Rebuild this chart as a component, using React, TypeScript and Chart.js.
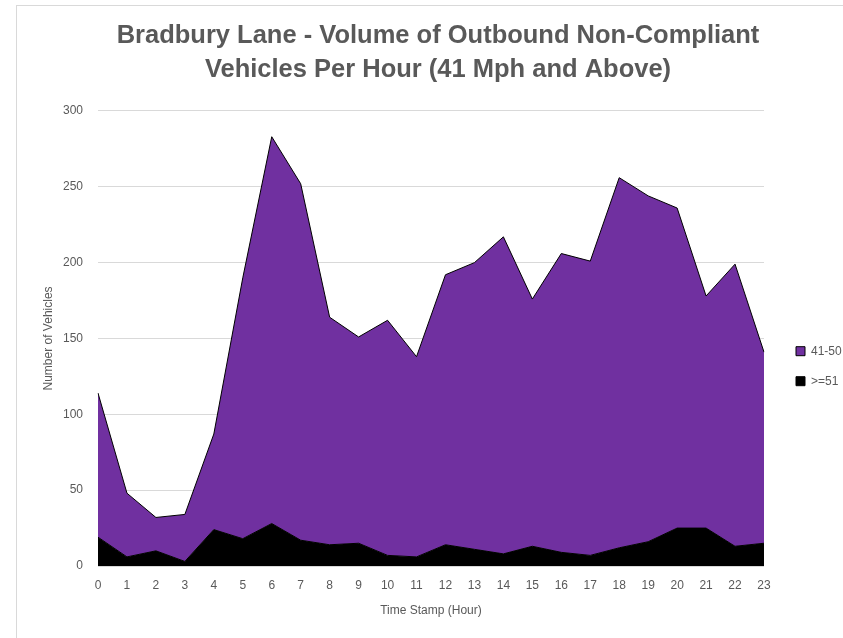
import React, { useEffect, useRef } from 'react';
import { Chart, registerables } from 'chart.js';

Chart.register(...registerables);

const hours = ['0', '1', '2', '3', '4', '5', '6', '7', '8', '9', '10', '11', '12', '13', '14', '15', '16', '17', '18', '19', '20', '21', '22', '23'];
const speed51Plus = [19, 6, 10, 3, 24, 18, 28, 17, 14, 15, 7, 6, 14, 11, 8, 13, 9, 7, 12, 16, 25, 25, 13, 15];
const speed41to50 = [95, 42, 22, 31, 63, 172, 255, 235, 150, 136, 155, 132, 178, 189, 209, 163, 197, 194, 244, 228, 211, 153, 186, 126];
const titleLines = ['Bradbury Lane - Volume of Outbound Non-Compliant', 'Vehicles Per Hour (41 Mph and Above)'];
const yMin = 0;
const yMax = 300;
const yStep = 50;

const TEXT = '#595959';
const PURPLE = '#7030A0';
const GRID = '#D9D9D9';
const SANS = "'Liberation Sans', Arial, sans-serif";

export default function App() {
  const ref = useRef<HTMLCanvasElement | null>(null);

  useEffect(() => {
    if (!ref.current) return;
    const chart = new Chart(ref.current, {
      type: 'line',
      data: {
        labels: hours,
        datasets: [
          {
            label: '>=51',
            data: speed51Plus,
            yAxisID: 'y',
            backgroundColor: '#000000',
            borderColor: '#000000',
            borderWidth: 1,
            fill: 'origin',
            pointRadius: 0,
            tension: 0,
          },
          {
            label: '41-50',
            data: speed41to50,
            yAxisID: 'y',
            backgroundColor: PURPLE,
            borderColor: '#000000',
            borderWidth: 1,
            fill: '-1',
            pointRadius: 0,
            tension: 0,
          },
        ],
      },
      options: {
        responsive: false,
        animation: false,
        events: [],
        layout: { padding: { left: 33, right: 0, top: 0, bottom: 18 } },
        plugins: {
          title: {
            display: true,
            text: titleLines,
            color: TEXT,
            font: { family: SANS, size: 25.5, weight: 'bold', lineHeight: 1.34 },
            padding: { top: 19, bottom: 23.6 },
          },
          legend: {
            position: 'right',
            reverse: true,
            maxWidth: 65,
            title: { display: true, text: '', padding: { top: 98, bottom: 0 } },
            labels: {
              boxWidth: 9,
              boxHeight: 9,
              padding: 18,
              color: TEXT,
              font: { family: SANS, size: 12 },
            },
          },
          tooltip: { enabled: false },
        },
        scales: {
          x: {
            grid: { display: false, drawTicks: false },
            border: { display: false },
            ticks: {
              color: TEXT,
              font: { family: SANS, size: 12 },
              padding: 12,
              maxRotation: 0,
              autoSkip: false,
            },
            title: {
              display: true,
              text: 'Time Stamp (Hour)',
              color: TEXT,
              font: { family: SANS, size: 12 },
              padding: { top: 0, bottom: 2 },
            },
            afterFit: (s: any) => {
              s.height = 54;
            },
          },
          y: {
            stacked: true,
            min: yMin,
            max: yMax,
            grid: { color: GRID, drawTicks: false },
            border: { display: false },
            ticks: {
              stepSize: yStep,
              padding: 15,
              color: TEXT,
              font: { family: SANS, size: 12 },
            },
            title: {
              display: true,
              text: 'Number of Vehicles',
              color: TEXT,
              font: { family: SANS, size: 12 },
              padding: { top: 8, bottom: 0 },
            },
            afterFit: (s: any) => {
              s.width = 65;
            },
          },
          pad: {
            type: 'linear',
            position: 'right',
            display: true,
            grid: { display: false, drawTicks: false },
            border: { display: false },
            ticks: { display: false },
            afterFit: (s: any) => {
              s.width = 14;
            },
          },
        },
      },
    });
    return () => chart.destroy();
  }, []);

  return (
    <div style={{ position: 'fixed', left: 0, top: 0, width: 843, height: 638, overflow: 'hidden', background: '#ffffff' }}>
      <div
        style={{
          position: 'absolute',
          left: 16,
          top: 5,
          width: 900,
          height: 700,
          border: '1px solid #D9D9D9',
          boxSizing: 'border-box',
        }}
      />
      <canvas ref={ref} width={843} height={638} style={{ position: 'absolute', left: 0, top: 0 }} />
    </div>
  );
}
